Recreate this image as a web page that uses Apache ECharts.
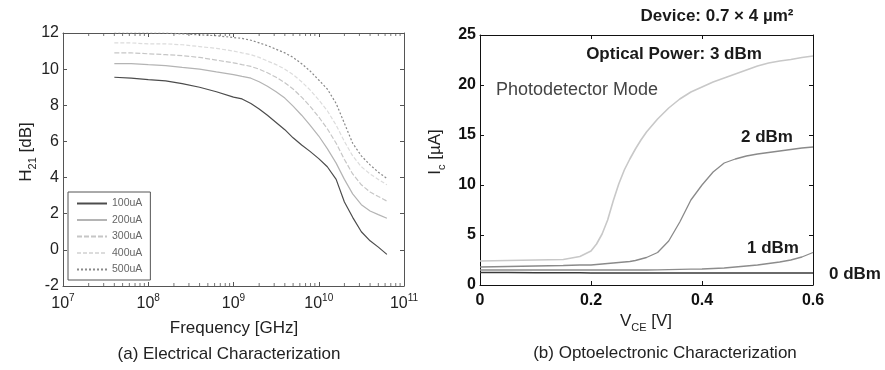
<!DOCTYPE html>
<html><head><meta charset="utf-8">
<script src="https://cdn.jsdelivr.net/npm/echarts@6/dist/echarts.min.js"></script>
<style>html,body{margin:0;padding:0;background:#fff}#c{width:885px;height:370px}</style>
</head><body><div id="c"></div>
<script>
// ---------- Left panel: H21 vs frequency ----------
const seriesNamesA = ['100uA', '200uA', '300uA', '400uA', '500uA'];
const freqHz = [4e7, 6.3e7, 1e8, 1.6e8, 2.5e8, 4e8, 6.3e8, 1e9, 1.26e9, 1.6e9, 2e9, 2.5e9, 3.16e9, 4e9, 5e9, 6.3e9, 7.9e9, 1e10, 1.26e10, 1.6e10, 2e10, 2.5e10, 3.16e10, 4e10, 5e10, 6.3e10];
const h21_100 = [9.55, 9.5, 9.42, 9.35, 9.2, 9.0, 8.75, 8.45, 8.35, 8.1, 7.8, 7.45, 7.05, 6.65, 6.2, 5.8, 5.45, 5.05, 4.6, 3.9, 2.65, 1.8, 1.0, 0.5, 0.15, -0.25];
const h21_200 = [10.3, 10.3, 10.25, 10.2, 10.1, 10.0, 9.85, 9.7, 9.6, 9.5, 9.3, 9.05, 8.75, 8.4, 7.95, 7.45, 6.9, 6.3, 5.6, 4.8, 3.9, 3.1, 2.5, 2.15, 1.95, 1.75];
const h21_300 = [10.9, 10.9, 10.85, 10.8, 10.75, 10.65, 10.5, 10.35, 10.25, 10.15, 10.0, 9.8, 9.55, 9.25, 8.9, 8.45, 7.95, 7.35, 6.7, 5.9, 5.0, 4.2, 3.6, 3.2, 2.95, 2.7];
const h21_400 = [11.45, 11.45, 11.4, 11.4, 11.35, 11.25, 11.15, 11.0, 10.9, 10.8, 10.65, 10.45, 10.25, 10.0, 9.7, 9.3, 8.85, 8.3, 7.7, 6.9, 6.0, 5.2, 4.6, 4.2, 3.9, 3.6];
const h21_500 = [12.0, 12.0, 12.0, 12.0, 11.95, 11.9, 11.85, 11.75, 11.7, 11.6, 11.45, 11.3, 11.1, 10.9, 10.65, 10.3, 9.9, 9.4, 8.9, 8.1, 7.0, 5.9, 5.2, 4.7, 4.3, 3.95];
const yTicksA = [-2, 0, 2, 4, 6, 8, 10, 12];

// ---------- Right panel: Ic vs VCE ----------
const vce = [0, 0.05, 0.1, 0.15, 0.18, 0.2, 0.21, 0.22, 0.23, 0.24, 0.25, 0.26, 0.27, 0.28, 0.29, 0.3, 0.32, 0.34, 0.36, 0.38, 0.4, 0.42, 0.44, 0.46, 0.48, 0.5, 0.52, 0.54, 0.56, 0.58, 0.6];
const ic_3dBm = [2.4, 2.45, 2.5, 2.55, 2.85, 3.4, 4.1, 5.1, 6.5, 8.4, 10.1, 11.5, 12.6, 13.6, 14.5, 15.3, 16.6, 17.7, 18.6, 19.3, 19.8, 20.3, 20.7, 21.1, 21.5, 21.9, 22.2, 22.4, 22.55, 22.75, 22.9];
const ic_2dBm = [1.8, 1.85, 1.9, 1.95, 2.0, 2.0, 2.05, 2.1, 2.15, 2.2, 2.25, 2.3, 2.35, 2.45, 2.6, 2.75, 3.25, 4.4, 6.3, 8.5, 10.0, 11.3, 12.2, 12.6, 12.9, 13.1, 13.25, 13.4, 13.55, 13.7, 13.8];
const ic_1dBm = [1.5, 1.5, 1.5, 1.5, 1.5, 1.5, 1.5, 1.5, 1.5, 1.5, 1.5, 1.5, 1.5, 1.5, 1.5, 1.5, 1.52, 1.54, 1.56, 1.58, 1.6, 1.65, 1.7, 1.8, 1.9, 2.0, 2.15, 2.3, 2.5, 2.8, 3.25];
const ic_0dBm = [1.25, 1.24, 1.23, 1.22, 1.22, 1.21, 1.21, 1.21, 1.2, 1.2, 1.2, 1.2, 1.2, 1.2, 1.2, 1.2, 1.2, 1.2, 1.2, 1.2, 1.2, 1.2, 1.2, 1.2, 1.2, 1.2, 1.2, 1.2, 1.2, 1.2, 1.2];
const seriesNamesB = ['3 dBm', '2 dBm', '1 dBm', '0 dBm'];

const FF = '"Liberation Sans", Arial, Helvetica, sans-serif';

// minor ticks of the log axis (2..9 x 10^n)
const minorFreq = [];
for (let d = 7; d < 11; d++) for (let m = 2; m <= 9; m++) minorFreq.push(m * Math.pow(10, d));

const chart = echarts.init(document.getElementById('c'), null, {renderer: 'canvas'});

const seriesA = [h21_100, h21_200, h21_300, h21_400, h21_500];
const styleA = [
  {color: '#4c4c4c', width: 1.2, type: 'solid'},
  {color: '#b4b4b4', width: 1.2, type: 'solid'},
  {color: '#c6c6c6', width: 1.2, type: [5, 2]},
  {color: '#dcdcdc', width: 1.2, type: [4, 2]},
  {color: '#8a8a8a', width: 1.2, type: [2, 2]}
];
const seriesB = [ic_3dBm, ic_2dBm, ic_1dBm, ic_0dBm];
const styleB = [
  {color: '#c8c8c8', width: 1.6},
  {color: '#8a8a8a', width: 1.3},
  {color: '#8c8c8c', width: 1.3},
  {color: '#3a3a3a', width: 1.5}
];

const axisCommon = (color) => ({
  axisLine: {show: true, onZero: false, lineStyle: {color: color, width: 1}},
  axisTick: {show: true, inside: true, length: 4, lineStyle: {color: color}},
  splitLine: {show: false}
});

const series = [];
seriesA.forEach((arr, i) => series.push({
  type: 'line', name: seriesNamesA[i], xAxisIndex: 0, yAxisIndex: 0,
  data: freqHz.map((f, j) => [f, arr[j]]), symbol: 'none', lineStyle: styleA[i],
  itemStyle: {color: styleA[i].color}, silent: true, z: 2
}));
series.push({
  type: 'scatter', xAxisIndex: 0, yAxisIndex: 0, symbol: 'rect', symbolSize: [1, 3],
  symbolOffset: [0, -1.5], itemStyle: {color: '#555'}, clip: false, silent: true,
  data: minorFreq.map(f => [f, -2])
});
series.push({
  type: 'scatter', xAxisIndex: 0, yAxisIndex: 0, symbol: 'rect', symbolSize: [1, 3],
  symbolOffset: [0, 1.5], itemStyle: {color: '#555'}, clip: false, silent: true,
  data: minorFreq.map(f => [f, 12])
});
seriesB.forEach((arr, i) => series.push({
  type: 'line', name: seriesNamesB[i], xAxisIndex: 2, yAxisIndex: 2,
  data: vce.map((v, j) => [v, arr[j]]), symbol: 'none', lineStyle: styleB[i],
  itemStyle: {color: styleB[i].color}, silent: true, z: 2
}));

const txt = (text, x, y, opt) => ({
  type: 'text', x: x, y: y, silent: true,
  style: Object.assign({text: text, align: 'center', verticalAlign: 'middle', fontFamily: FF, fontSize: 17, fill: '#1a1a1a'}, opt || {})
});

const option = {
  backgroundColor: '#fff',
  animation: false,
  grid: [
    {left: 63, top: 33, width: 341, height: 253, outerBoundsMode: 'none', containLabel: false},
    {left: 480, top: 35, width: 333, height: 250, outerBoundsMode: 'none', containLabel: false}
  ],
  legend: {
    data: seriesNamesA, orient: 'vertical', left: 68, top: 192,
    backgroundColor: '#fff', borderColor: '#555', borderWidth: 1, borderRadius: 0,
    padding: [6, 8, 5, 8], itemWidth: 30, itemHeight: 10, itemGap: 5.5, selectedMode: false,
    itemStyle: {opacity: 0, borderWidth: 0},
    textStyle: {fontFamily: FF, fontSize: 10.5, color: '#666', lineHeight: 10}
  },
  xAxis: [
    Object.assign({gridIndex: 0, type: 'log', logBase: 10, min: 1e7, max: 1e11, position: 'bottom',
      axisLabel: {margin: 7, color: '#222', fontFamily: FF, fontSize: 16,
        formatter: v => '{b|10}{s|' + Math.round(Math.log10(v)) + '}',
        rich: {b: {fontSize: 16, fontFamily: FF, color: '#222', lineHeight: 22, verticalAlign: 'middle'},
               s: {fontSize: 10, fontFamily: FF, color: '#222', lineHeight: 12, verticalAlign: 'top'}}}
    }, axisCommon('#555')),
    Object.assign({gridIndex: 0, type: 'log', logBase: 10, min: 1e7, max: 1e11, position: 'top',
      axisLabel: {show: false}}, axisCommon('#555')),
    Object.assign({gridIndex: 1, type: 'value', min: 0, max: 0.6, interval: 0.2, position: 'bottom',
      axisLabel: {margin: 8, color: '#111', fontFamily: FF, fontSize: 16, fontWeight: 'bold',
        formatter: v => v === 0 ? '0' : v.toFixed(1)}}, axisCommon('#111')),
    Object.assign({gridIndex: 1, type: 'value', min: 0, max: 0.6, interval: 0.2, position: 'top',
      axisLabel: {show: false}}, axisCommon('#111'))
  ],
  yAxis: [
    Object.assign({gridIndex: 0, type: 'value', min: -2, max: 12, interval: 2, position: 'left',
      axisLabel: {margin: 4, color: '#222', fontFamily: FF, fontSize: 16}}, axisCommon('#555')),
    Object.assign({gridIndex: 0, type: 'value', min: -2, max: 12, interval: 2, position: 'right',
      axisLabel: {show: false}}, axisCommon('#555')),
    Object.assign({gridIndex: 1, type: 'value', min: 0, max: 25, interval: 5, position: 'left',
      axisLabel: {margin: 4, color: '#111', fontFamily: FF, fontSize: 16, fontWeight: 'bold'}}, axisCommon('#111')),
    Object.assign({gridIndex: 1, type: 'value', min: 0, max: 25, interval: 5, position: 'right',
      axisLabel: {show: false}}, axisCommon('#111'))
  ],
  series: series,
  graphic: [
    // left panel
    {type: 'text', x: 26, y: 152, rotation: Math.PI / 2, silent: true,
      style: {text: '{m|H}{s|21}{m| [dB]}', align: 'center', verticalAlign: 'middle',
        rich: {m: {fontFamily: FF, fontSize: 17, fill: '#222', lineHeight: 24, verticalAlign: 'middle'},
               s: {fontFamily: FF, fontSize: 11, fill: '#222', lineHeight: 12, verticalAlign: 'bottom'}}}},
    txt('Frequency [GHz]', 234, 328, {fill: '#222'}),
    txt('(a) Electrical Characterization', 229, 354, {fill: '#222'}),
    // right panel
    {type: 'text', x: 435, y: 152, rotation: Math.PI / 2, silent: true,
      style: {text: '{m|I}{s|c}{m| [µA]}', align: 'center', verticalAlign: 'middle',
        rich: {m: {fontFamily: FF, fontSize: 17, fill: '#222', lineHeight: 24, verticalAlign: 'middle'},
               s: {fontFamily: FF, fontSize: 11, fill: '#222', lineHeight: 12, verticalAlign: 'bottom'}}}},
    {type: 'text', x: 646, y: 321, silent: true,
      style: {text: '{m|V}{s|CE}{m| [V]}', align: 'center', verticalAlign: 'middle',
        rich: {m: {fontFamily: FF, fontSize: 17, fill: '#222', lineHeight: 24, verticalAlign: 'middle'},
               s: {fontFamily: FF, fontSize: 11, fill: '#222', lineHeight: 12, verticalAlign: 'bottom'}}}},
    txt('(b) Optoelectronic Characterization', 665, 353, {fill: '#222'}),
    txt('Device: 0.7 × 4 µm²', 717, 16, {fontWeight: 'bold'}),
    txt('Optical Power: 3 dBm', 674, 54, {fontWeight: 'bold'}),
    txt('Photodetector Mode', 577, 90, {fontSize: 18, fill: '#444'}),
    txt('2 dBm', 767, 137, {fontWeight: 'bold'}),
    txt('1 dBm', 773, 248, {fontWeight: 'bold'}),
    txt('0 dBm', 855, 274, {fontWeight: 'bold'})
  ]
};
chart.setOption(option);
</script>
</body></html>
